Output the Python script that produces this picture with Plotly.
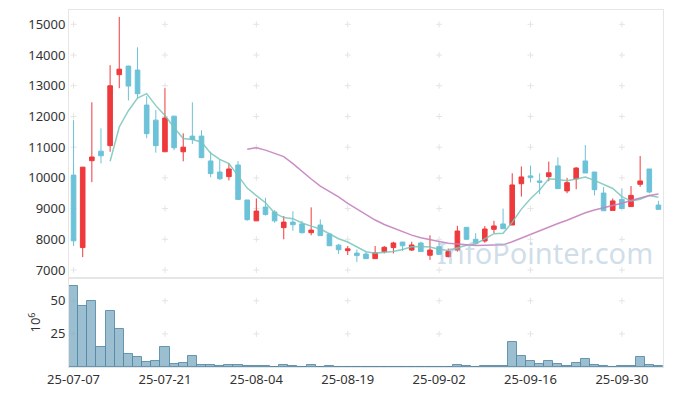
import pandas as pd
import plotly.graph_objects as go

dates = [
    "2025-07-07", "2025-07-08", "2025-07-09", "2025-07-10", "2025-07-11",
    "2025-07-14", "2025-07-15", "2025-07-16", "2025-07-17", "2025-07-18",
    "2025-07-21", "2025-07-22", "2025-07-23", "2025-07-24", "2025-07-25",
    "2025-07-28", "2025-07-29", "2025-07-30", "2025-07-31", "2025-08-01",
    "2025-08-04", "2025-08-05", "2025-08-06", "2025-08-07", "2025-08-08",
    "2025-08-11", "2025-08-12", "2025-08-13", "2025-08-14", "2025-08-18",
    "2025-08-19", "2025-08-20", "2025-08-21", "2025-08-22", "2025-08-25",
    "2025-08-26", "2025-08-27", "2025-08-28", "2025-08-29", "2025-09-01",
    "2025-09-02", "2025-09-03", "2025-09-04", "2025-09-05", "2025-09-08",
    "2025-09-09", "2025-09-10", "2025-09-11", "2025-09-12", "2025-09-15",
    "2025-09-16", "2025-09-17", "2025-09-18", "2025-09-19", "2025-09-22",
    "2025-09-23", "2025-09-24", "2025-09-25", "2025-09-26", "2025-09-29",
    "2025-09-30", "2025-10-01", "2025-10-02", "2025-10-10", "2025-10-13",
]

open_ = [10090, 7730, 10560, 10870, 11050, 13360, 13640, 13510, 12370, 11880,
         10850, 12010, 10850, 11360, 11360, 10550, 10190, 10040, 10420, 9280,
         8600, 9050, 8890, 8380, 8560, 8500, 8215, 8465, 8170, 7810,
         7630, 7550, 7520, 7370, 7600, 7730, 7910, 7650, 7880, 7480,
         7760, 7435, 7650, 8390, 8000, 7945, 8325, 8500, 8465, 9810,
         10065, 9900, 10040, 10390, 9575, 9965, 10550, 10190, 9505, 8940,
         9300, 9065, 9790, 10290, 9115]
high = [11880, 10350, 12460, 11610, 13670, 15240, 13650, 14250, 12660, 12210,
        12920, 12010, 11450, 12460, 11550, 10850, 10600, 10470, 10550, 9280,
        9330, 9350, 8950, 8760, 8910, 8600, 9040, 8650, 8200, 7850,
        7780, 7670, 7600, 7780, 7780, 7920, 7910, 7920, 7920, 8130,
        7900, 7700, 8440, 8400, 8200, 8430, 8600, 9000, 10150, 10370,
        10400, 10150, 10530, 10670, 10000, 10350, 11070, 10190, 9700, 9330,
        9660, 9735, 10710, 10290, 9250]
low = [7780, 7420, 9860, 10470, 10850, 12920, 12520, 12590, 11290, 10820,
       10850, 10900, 10540, 11100, 10640, 10020, 9940, 9920, 9290, 8600,
       8600, 8770, 8540, 8000, 8280, 8190, 8130, 8117, 7780, 7520,
       7490, 7260, 7370, 7370, 7540, 7540, 7620, 7620, 7600, 7330,
       7500, 7410, 7600, 8000, 7860, 7890, 8195, 8345, 8465, 9390,
       9850, 9470, 9890, 9650, 9500, 9630, 10160, 9430, 8930, 8940,
       9000, 9065, 9710, 9500, 8975]
close = [7950, 10350, 10680, 10720, 13000, 13540, 12990, 12740, 11440, 11050,
         11950, 10980, 11000, 11250, 10660, 10140, 9970, 10290, 9300, 8640,
         8920, 8810, 8600, 8560, 8475, 8215, 8300, 8120, 7790, 7660,
         7690, 7470, 7370, 7560, 7740, 7880, 7790, 7815, 7600, 7650,
         7510, 7600, 8270, 8000, 7870, 8335, 8435, 8345, 9770, 10030,
         10020, 9855, 10165, 9650, 9845, 10320, 10160, 9615, 8930, 9250,
         9000, 9430, 9900, 9540, 8975]
volume_m = [61, 46, 49.5, 15, 42, 28.5, 9.7, 7.3, 3.7, 4.5,
            15, 2.2, 2.8, 8.2, 1.3, 1.3, 0.5, 1.3, 1.3, 0.5,
            0.5, 0.5, 0.1, 1.3, 0.5, 0.1, 1.8, 0.1, 0.5, 0,
            0, 0, 0, 0, 0, 0, 0, 0, 0, 0,
            0, 0, 1.6, 0.5, 0.1, 0.5, 0.5, 0.5, 18.7, 8.3,
            4.4, 2.2, 4.4, 2.2, 0.5, 2.9, 5.9, 1.5, 0.5, 0.1,
            0.5, 0.5, 7.4, 1.5, 0.5]

tick_idx = [0, 10, 20, 30, 40, 50, 60]
tick_text = [dates[i][2:] for i in tick_idx]
price_ticks = [7000, 8000, 9000, 10000, 11000, 12000, 13000, 14000, 15000]
vol_ticks = [25, 50]

x = list(range(len(dates)))
s = pd.Series(close)
ma5 = s.rolling(5).mean()
ma20 = s.rolling(20).mean()

FONT = "Noto Sans"
fig = go.Figure()

fig.add_trace(go.Candlestick(
    x=x, open=open_, high=high, low=low, close=close, xaxis="x", yaxis="y",
    increasing=dict(line=dict(color="#EE3A3C", width=1), fillcolor="#EE3A3C"),
    decreasing=dict(line=dict(color="#6CC2D8", width=1), fillcolor="#6CC2D8"),
    showlegend=False))

fig.add_trace(go.Scatter(x=x, y=ma5, mode="lines", xaxis="x", yaxis="y",
                         line=dict(color="rgba(120,196,186,0.85)", width=1.5),
                         hoverinfo="skip", showlegend=False))
fig.add_trace(go.Scatter(x=x, y=ma20, mode="lines", xaxis="x", yaxis="y",
                         line=dict(color="rgba(196,130,190,0.9)", width=1.5),
                         hoverinfo="skip", showlegend=False))

fig.add_trace(go.Bar(x=x, y=volume_m, xaxis="x2", yaxis="y2", width=1,
                     marker=dict(color="rgba(122,168,192,0.75)",
                                 line=dict(color="rgba(84,136,165,0.85)", width=1)),
                     showlegend=False))

# grid crosses drawn below the data
shapes = []
def add_cross(xr, yr, xv, yv):
    ln = dict(color="#e4e4e4", width=1)
    shapes.append(dict(type="line", xref=xr, yref=yr, layer="below",
                       xsizemode="pixel", xanchor=xv, x0=-3, x1=3,
                       y0=yv, y1=yv, line=ln))
    shapes.append(dict(type="line", xref=xr, yref=yr, layer="below",
                       ysizemode="pixel", yanchor=yv, y0=-3, y1=3,
                       x0=xv, x1=xv, line=ln))
for t in tick_idx:
    for p in price_ticks:
        add_cross("x", "y", t, p)
    for v in vol_ticks:
        add_cross("x2", "y2", t, v)

split = 0.2493
axis_common = dict(showgrid=False, zeroline=False, showline=True, mirror=True,
                   linecolor="#e6e6e6", linewidth=1)
fig.update_layout(
    width=665, height=388,
    margin=dict(l=61, r=10, t=2, b=29, autoexpand=False),
    paper_bgcolor="white", plot_bgcolor="white",
    font=dict(family=FONT, size=13, color="#333"),
    showlegend=False,
    boxgap=0.28,
    shapes=shapes,
    xaxis=dict(domain=[0, 1], range=[-0.5, 64.5], anchor="y",
               rangeslider=dict(visible=False), showticklabels=False,
               tickvals=tick_idx, ticks="", **axis_common),
    yaxis=dict(domain=[split, 1], range=[6740, 15466], anchor="x",
               tickvals=price_ticks, tickformat="d", ticks="",
               tickfont=dict(size=13, color="#333"), **axis_common),
    xaxis2=dict(domain=[0, 1], range=[-0.5, 64.5], anchor="y2",
                tickvals=tick_idx, ticktext=tick_text, ticks="",
                tickfont=dict(size=13, color="#333"), **axis_common),
    yaxis2=dict(domain=[0, split], range=[0, 67.2], anchor="x2",
                tickvals=vol_ticks, ticks="", tickfont=dict(size=13, color="#333"),
                title=dict(text="10<sup>6</sup>", font=dict(size=13, color="#333"),
                           standoff=6),
                **axis_common),
    bargap=0,
    annotations=[dict(text="InfoPointer.com", xref="paper", yref="paper",
                      x=0.987, y=split + 0.012, xanchor="right", yanchor="bottom",
                      showarrow=False,
                      font=dict(family=FONT, size=29, color="rgba(160,190,212,0.5)"))],
)

fig.write_html("out.html")
